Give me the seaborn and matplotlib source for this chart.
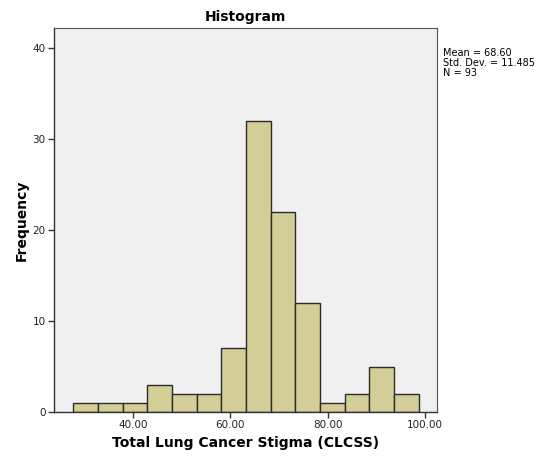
import numpy as np
import pandas as pd
import matplotlib
matplotlib.use("Agg")
import matplotlib.pyplot as plt
import seaborn as sns

# Data
bin_edges = [27.7, 32.77, 37.84, 42.91, 47.98, 53.05, 58.12, 63.19, 68.26, 73.33, 78.4, 83.47, 88.54, 93.61, 98.68]
counts = [1, 1, 1, 3, 2, 2, 7, 32, 22, 12, 1, 2, 5, 2]
x_ticks = [40, 60, 80, 100]
x_tick_labels = ["40.00", "60.00", "80.00", "100.00"]
y_ticks = [0, 10, 20, 30, 40]
stats_text = "Mean = 68.60\nStd. Dev. = 11.485\nN = 93"

centers = [(bin_edges[i] + bin_edges[i + 1]) / 2 for i in range(len(counts))]
df = pd.DataFrame({"value": centers, "count": counts})

sns.set_style("white")
plt.rcParams['font.family'] = ['DejaVu Sans']
plt.rcParams['text.color'] = 'black'
plt.rcParams['axes.labelcolor'] = 'black'
plt.rcParams['xtick.labelcolor'] = '#222222'
plt.rcParams['ytick.labelcolor'] = '#222222'

fig = plt.figure(figsize=(5.45, 4.61), dpi=100)
ax = fig.add_axes([0.099, 0.106, 0.703, 0.833])
ax.set_facecolor("#F0F0F0")

sns.histplot(data=df, x="value", weights="count", bins=bin_edges, ax=ax,
             color="#D3CE98", alpha=1.0, edgecolor="#2b2b2b", linewidth=1.0)

ax.set_xlim(23.7, 102.5)
ax.set_ylim(0, 42.2)
ax.set_xticks(x_ticks)
ax.set_xticklabels(x_tick_labels)
ax.set_yticks(y_ticks)
ax.tick_params(axis="both", direction="out", length=4, width=1, color="#333333",
               labelsize=7.5, pad=2, bottom=True, left=True)

for s in ["left", "bottom"]:
    ax.spines[s].set_color("#333333")
    ax.spines[s].set_linewidth(1.0)
for s in ["top", "right"]:
    ax.spines[s].set_color("#555555")
    ax.spines[s].set_linewidth(0.8)

ax.set_title("Histogram", fontsize=10, fontweight="bold", pad=5, color="black")
ax.set_xlabel("Total Lung Cancer Stigma (CLCSS)", fontsize=10, fontweight="bold", labelpad=4)
ax.set_ylabel("Frequency", fontsize=10, fontweight="bold", labelpad=3)

fig.text(0.812, 0.895, stats_text, fontsize=7, va="top", ha="left", linespacing=0.95, color="black")

fig.savefig("out.png", dpi=100)
